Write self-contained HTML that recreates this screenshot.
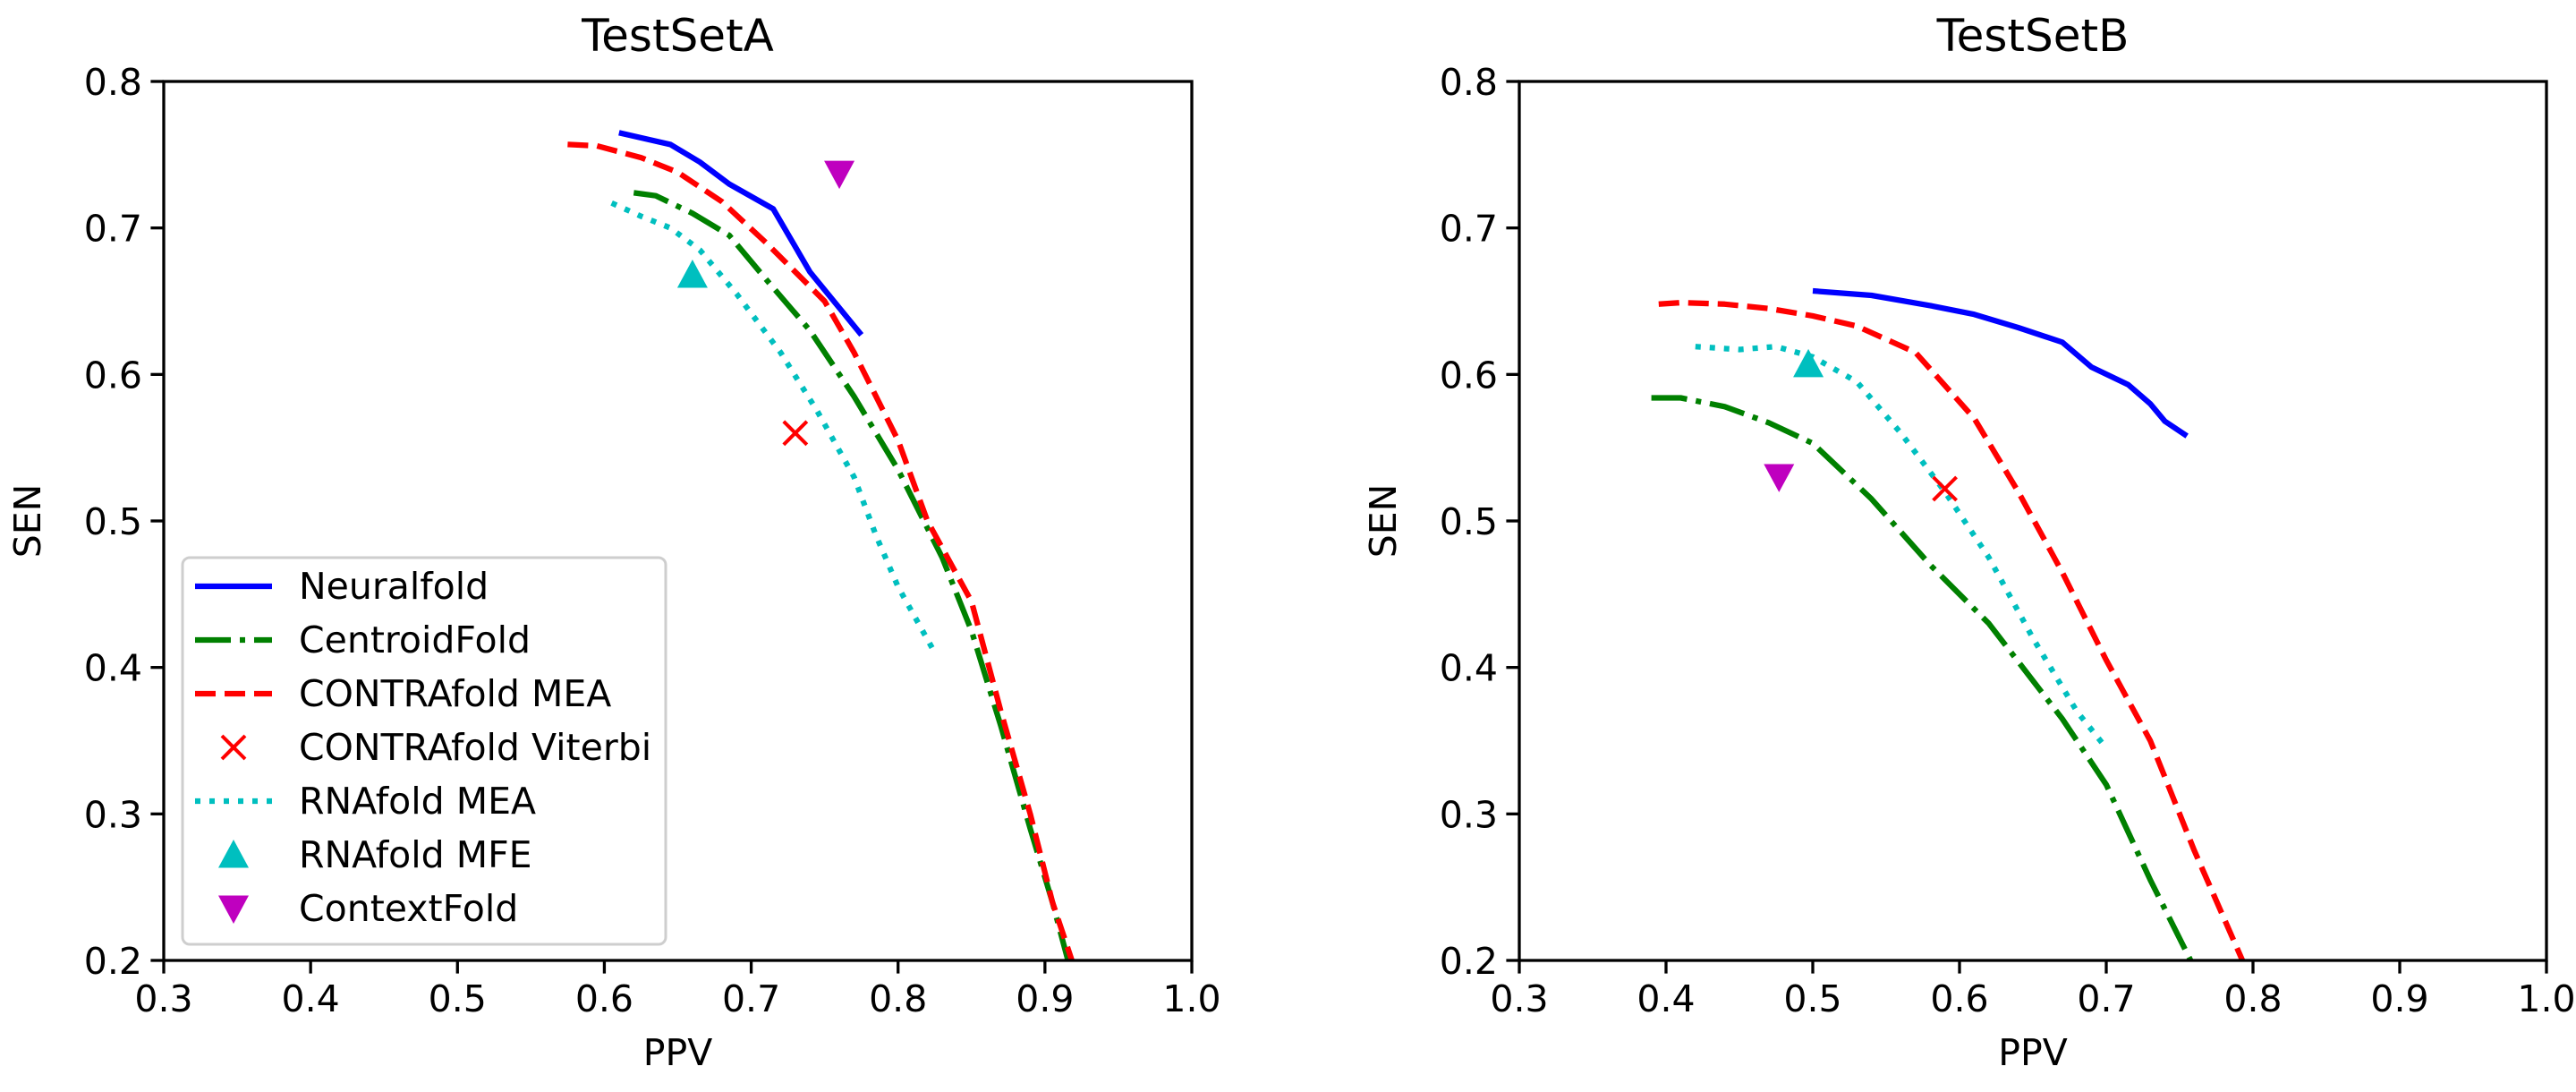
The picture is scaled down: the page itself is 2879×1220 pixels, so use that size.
<!DOCTYPE html>
<html><head><meta charset="utf-8"><style>
html,body{margin:0;padding:0;background:#fff;}
svg{display:block;font-family:"DejaVu Sans","Liberation Sans",sans-serif;}
</style></head><body>
<svg id="chart" width="2879" height="1220" viewBox="0 0 2879 1220" xmlns="http://www.w3.org/2000/svg"></svg>
<script>
const xTicks=[0.3,0.4,0.5,0.6,0.7,0.8,0.9,1.0];
const yTicks=[0.2,0.3,0.4,0.5,0.6,0.7,0.8];
const xTickLabels=["0.3","0.4","0.5","0.6","0.7","0.8","0.9","1.0"];
const yTickLabels=["0.2","0.3","0.4","0.5","0.6","0.7","0.8"];
const panelTitles=["TestSetA","TestSetB"];
// Test set A
const neuralA_x=[0.61,0.645,0.665,0.685,0.715,0.74,0.775];
const neuralA_y=[0.765,0.757,0.745,0.73,0.713,0.67,0.627];
const contraA_x=[0.575,0.595,0.625,0.65,0.68,0.71,0.75,0.77,0.80,0.82,0.85,0.87,0.89,0.905,0.92];
const contraA_y=[0.757,0.756,0.748,0.738,0.718,0.69,0.65,0.615,0.555,0.50,0.445,0.37,0.30,0.24,0.195];
const centroidA_x=[0.62,0.635,0.66,0.685,0.71,0.74,0.77,0.80,0.83,0.85,0.87,0.89,0.905,0.917];
const centroidA_y=[0.724,0.722,0.71,0.695,0.665,0.63,0.585,0.535,0.475,0.425,0.36,0.29,0.24,0.195];
const rnameaA_x=[0.605,0.625,0.645,0.665,0.69,0.72,0.745,0.77,0.785,0.80,0.825];
const rnameaA_y=[0.717,0.708,0.70,0.685,0.655,0.615,0.575,0.53,0.49,0.455,0.41];
const viterbiA=[0.73,0.56], mfeA=[0.66,0.668], contextA=[0.76,0.737];
// Test set B
const neuralB_x=[0.50,0.54,0.58,0.61,0.64,0.67,0.69,0.715,0.73,0.74,0.755];
const neuralB_y=[0.657,0.654,0.647,0.641,0.632,0.622,0.605,0.593,0.58,0.568,0.558];
const contraB_x=[0.395,0.41,0.44,0.47,0.50,0.53,0.57,0.61,0.64,0.67,0.70,0.73,0.76,0.795];
const contraB_y=[0.648,0.649,0.648,0.645,0.64,0.633,0.615,0.57,0.52,0.465,0.405,0.35,0.275,0.195];
const centroidB_x=[0.39,0.41,0.44,0.47,0.50,0.54,0.58,0.62,0.67,0.70,0.73,0.76];
const centroidB_y=[0.584,0.584,0.578,0.567,0.553,0.515,0.47,0.43,0.365,0.32,0.255,0.195];
const rnameaB_x=[0.42,0.45,0.475,0.50,0.53,0.56,0.59,0.62,0.65,0.68,0.70];
const rnameaB_y=[0.619,0.617,0.619,0.612,0.595,0.56,0.52,0.475,0.42,0.37,0.345];
const viterbiB=[0.59,0.522], mfeB=[0.497,0.607], contextB=[0.477,0.53];

const NS="http://www.w3.org/2000/svg";
const svg=document.getElementById('chart');
function el(tag,attrs,parent){const e=document.createElementNS(NS,tag);for(const k in attrs)e.setAttribute(k,attrs[k]);(parent||svg).appendChild(e);return e;}
const axTop=91,axBot=1073;
const panels=[{l:183,r:1332},{l:1698,r:2846}];
const styles={
 neural:{stroke:"#0000ff",dash:""},
 centroid:{stroke:"#008000",dash:"40 10 6 10"},
 contra:{stroke:"#ff0000",dash:"23 10"},
 rnamea:{stroke:"#00bfbf",dash:"6 10"}
};
el('defs',{}).innerHTML='<clipPath id="c0"><rect x="183" y="91" width="1149" height="982"/></clipPath><clipPath id="c1"><rect x="1698" y="91" width="1148" height="982"/></clipPath>';
const data=[
 {neural:[neuralA_x,neuralA_y],centroid:[centroidA_x,centroidA_y],contra:[contraA_x,contraA_y],rnamea:[rnameaA_x,rnameaA_y],vit:viterbiA,mfe:mfeA,ctx:contextA},
 {neural:[neuralB_x,neuralB_y],centroid:[centroidB_x,centroidB_y],contra:[contraB_x,contraB_y],rnamea:[rnameaB_x,rnameaB_y],vit:viterbiB,mfe:mfeB,ctx:contextB}
];
function tri(cx,cy,up,col,name,parent){const s=17;const p=up?`${cx},${cy-s} ${cx-s},${cy+s*0.85} ${cx+s},${cy+s*0.85}`:`${cx},${cy+s} ${cx-s},${cy-s*0.85} ${cx+s},${cy-s*0.85}`;const t=el('polygon',{points:p,fill:col},parent);
 
 
 return t;}
function cross(cx,cy,name,parent){const g=el('g',{stroke:"#ff0000","stroke-width":4},parent);
 
 
 const s=13;el('line',{x1:cx-s,y1:cy-s,x2:cx+s,y2:cy+s},g);el('line',{x1:cx-s,y1:cy+s,x2:cx+s,y2:cy-s},g);return g;}
panels.forEach((p,i)=>{
 const X=v=>p.l+(v-0.3)/0.7*(p.r-p.l);
 const Y=v=>axBot-(v-0.2)/0.6*(axBot-axTop);
 const g=el('g',{});
 
 
 const t=el('text',{x:(p.l+p.r)/2,y:57,"font-size":50,"text-anchor":"middle"},g);t.textContent=panelTitles[i];
 
 
 const d=data[i];const cg=el('g',{"clip-path":`url(#c${i})`},g);
 ['neural','centroid','contra','rnamea'].forEach(k=>{
  const [xs,ys]=d[k];const pts=xs.map((x,j)=>X(x).toFixed(1)+','+Y(ys[j]).toFixed(1)).join(' ');
  const pl=el('polyline',{points:pts,fill:"none",stroke:styles[k].stroke,"stroke-width":6.25,"stroke-dasharray":styles[k].dash,"stroke-linejoin":"round"},cg);
  
  
 });
 cross(X(d.vit[0]),Y(d.vit[1]),'contrafold-viterbi-point',g);
 tri(X(d.mfe[0]),Y(d.mfe[1]),true,"#00bfbf",'rnafold-mfe-point',g);
 tri(X(d.ctx[0]),Y(d.ctx[1]),false,"#bf00bf",'contextfold-point',g);
 const fr=el('rect',{x:p.l,y:axTop,width:p.r-p.l,height:axBot-axTop,fill:"none",stroke:"#000","stroke-width":3.3},g);
 
 
 xTicks.forEach((v,j)=>{el('line',{x1:X(v),y1:axBot,x2:X(v),y2:axBot+14.6,stroke:"#000","stroke-width":3.3},g);
  const tt=el('text',{x:X(v),y:1130,"font-size":41,"text-anchor":"middle"},g);tt.textContent=xTickLabels[j];
  
  });
 yTicks.forEach((v,j)=>{el('line',{x1:p.l,y1:Y(v),x2:p.l-14.6,y2:Y(v),stroke:"#000","stroke-width":3.3},g);
  const tt=el('text',{x:p.l-24,y:Y(v)+15,"font-size":41,"text-anchor":"end"},g);tt.textContent=yTickLabels[j];
  
  });
 const xl=el('text',{x:(p.l+p.r)/2,y:1190,"font-size":41,"text-anchor":"middle"},g);xl.textContent="PPV";
 
 
 const yl=el('text',{x:0,y:0,"font-size":41,"text-anchor":"middle",transform:`translate(${p.l-138},${(axTop+axBot)/2}) rotate(-90)`},g);yl.textContent="SEN";
 
 
});
// legend
const lg=el('g',{});


el('rect',{x:204,y:623,width:540,height:432,rx:8,fill:"#fff",stroke:"#cccccc","stroke-width":3,opacity:0.95},lg);
const legendLabels=["Neuralfold","CentroidFold","CONTRAfold MEA","CONTRAfold Viterbi","RNAfold MEA","RNAfold MFE","ContextFold"];
const legendKeys=["neural","centroid","contra","vit","rnamea","mfe","ctx"];
legendLabels.forEach((lab,i)=>{
 const y=655+i*60;const k=legendKeys[i];
 const e=el('g',{},lg);
 
 
 if(styles[k]) el('line',{x1:218,y1:y,x2:304,y2:y,stroke:styles[k].stroke,"stroke-width":6.25,"stroke-dasharray":styles[k].dash},e);
 else if(k==='vit') cross(261,y,'legend-viterbi-marker',e);
 else if(k==='mfe') tri(261,y,true,"#00bfbf",'legend-mfe-marker',e);
 else tri(261,y,false,"#bf00bf",'legend-context-marker',e);
 const t=el('text',{x:334,y:y+14,"font-size":41},e);t.textContent=lab;
});
</script>
</body></html>
